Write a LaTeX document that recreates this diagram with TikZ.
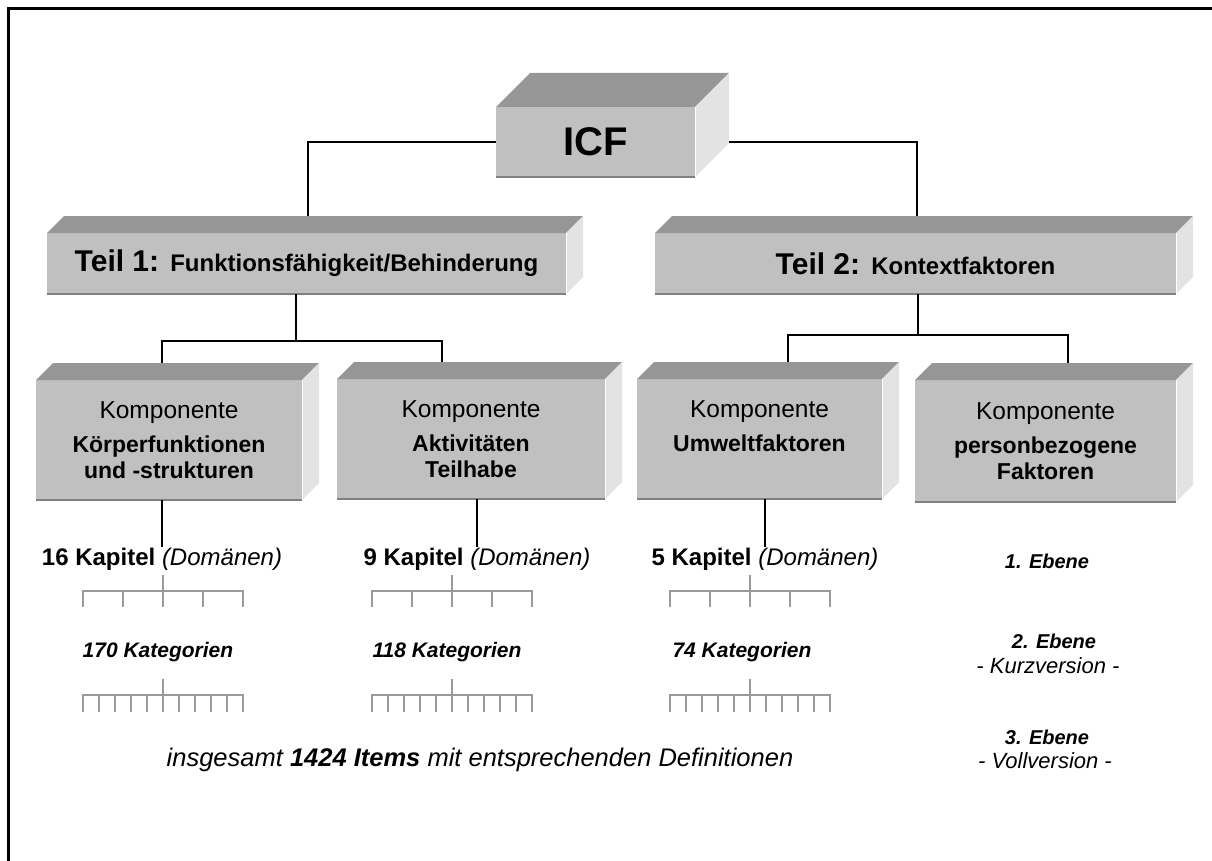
\documentclass[tikz,border=0pt]{standalone}
\usepackage{fontspec}
\setmainfont{Liberation Sans}
\usetikzlibrary{calc}
\usetikzlibrary{positioning}

\definecolor{frontgray}{HTML}{C0C0C0}
\definecolor{topgray}{HTML}{969696}
\definecolor{sidegray}{HTML}{E3E3E3}
\definecolor{treegray}{HTML}{9A9A9A}

\newcommand{\fs}[2]{\fontsize{#1}{#2}\selectfont}

% top and side face of a box; #1 node, #2 depth
\newcommand{\quader}[2]{%
  \fill[topgray] (#1.north west) -- ++(#2,-#2) -- ($(#1.north east)+(#2,-#2)$) -- (#1.north east) -- cycle;
  \fill[sidegray] (#1.north east) -- ++(#2,-#2) -- ($(#1.south east)+(#2,-#2)$) -- (#1.south east) -- cycle;
  \draw[white, line width=1pt] (#1.north east) -- (#1.south east);
  \draw[gray, line width=1.5pt] (#1.south west) -- (#1.south east);
}

\begin{document}
\begin{tikzpicture}[x=1pt, y=-1pt]

                \def\d{17}

                \tikzset{
                    front/.style={fill=frontgray, inner sep=0pt, outer sep=0pt, align=center},
                    komp/.style={front, minimum height=120, font=\fs{23}{26}\bfseries},
                    link/.style={line width=1.5pt},
                    tree/.style={treegray, line width=2pt},
                    label/.style={anchor=base, inner sep=0pt}
                }

                \useasboundingbox (0,0) rectangle (1212,861);
                \draw[line width=3pt] (1212,9) -- (8,9) -- (8,861);

                % the boxes
                \begin{scope}
                    \node[front, minimum width=199, minimum height=70] (icf) at (595.5,142)
                    {\fs{40}{44}\bfseries ICF};
                    \node[front, minimum width=519, minimum height=61] (teil1) at (306.5,263.5)
                    {\fs{30}{34}\bfseries Teil 1: {\fs{24}{28}Funktionsfähigkeit/Behinderung}};
                    \node[front, minimum width=521, minimum height=61] (teil2) at (915.5,263.5)
                    {\fs{30}{34}\bfseries Teil 2: {\fs{24}{28}Kontextfaktoren}};
                    \node[komp, minimum width=266] (k1) at (169,440)
                    {{\fs{24.5}{28}\mdseries Komponente}\\[8pt]Körperfunktionen\\und -strukturen};
                    \node[komp, minimum width=268] (k2) at (471,439)
                    {{\fs{24.5}{28}\mdseries Komponente}\\[8pt]Aktivitäten\\Teilhabe};
                    \node[komp, minimum width=245] (k3) at (759.5,439)
                    {{\fs{24.5}{28}\mdseries Komponente}\\[8pt]Umweltfaktoren\\\phantom{Faktoren}};
                    \node[komp, minimum width=261, minimum height=122] (k4) at (1045.5,441)
                    {{\fs{24.5}{28}\mdseries Komponente}\\[8pt]personbezogene\\Faktoren};
                \end{scope}

                \quader{icf}{34}
                \quader{teil1}{\d}
                \quader{teil2}{\d}
                \quader{k1}{\d}
                \quader{k2}{\d}
                \quader{k3}{\d}
                \quader{k4}{\d}

                % texts below the boxes
                \node[label] (kap1) at (162,565)
                {\fs{24}{28}\textbf{16 Kapitel} \textit{(Domänen)}};
                \node[label] (kap2) at (477,565)
                {\fs{24}{28}\textbf{9 Kapitel} \textit{(Domänen)}};
                \node[label] (kap3) at (765,565)
                {\fs{24}{28}\textbf{5 Kapitel} \textit{(Domänen)}};
                \node[label] (kat1) at (158,657)
                {\fs{21}{25}\bfseries\itshape 170 Kategorien};
                \node[label] (kat2) at (447,657)
                {\fs{21}{25}\bfseries\itshape 118 Kategorien};
                \node[label] (kat3) at (742,657)
                {\fs{21}{25}\bfseries\itshape 74 Kategorien};
                \node[label] (items) at (480,766)
                {\fs{25.5}{30}\itshape insgesamt \textbf{1424 Items} mit entsprechenden Definitionen};

                \node[label] (eb1) at (1047,568) {\fs{20}{24}\bfseries\itshape 1. Ebene};
                \node[label] (eb2) at (1054,648) {\fs{20}{24}\bfseries\itshape 2. Ebene};
                \node[label] (kurz) at (1048,673) {\fs{22}{26}\itshape - Kurzversion -};
                \node[label] (eb3) at (1047,744) {\fs{20}{24}\bfseries\itshape 3. Ebene};
                \node[label] (voll) at (1045,768) {\fs{22}{26}\itshape - Vollversion -};

                % connectors
                \begin{scope}[link]
                    \draw (icf.west) -| ($(teil1.north west)+(261,-\d)$);
                    \draw ($(icf.east)+(34,0)$) -| ($(teil2.north west)+(262,-\d)$);
                    \draw ($(teil1.south west)+(249,0)$) -- ++(0,47) coordinate (j1);
                    \draw ($(k1.north west)+(126,-\d)$) |- (j1) -| ($(k2.north west)+(105,-\d)$);
                    \draw ($(teil2.south west)+(263,0)$) -- ++(0,41) coordinate (j2);
                    \draw ($(k3.north west)+(151,-\d)$) |- (j2) -| ($(k4.north west)+(153,-\d)$);
                    \draw (kap1.north) -- (kap1.north |- k1.south);
                    \draw (kap2.north) -- (kap2.north |- k2.south);
                    \draw (kap3.north) -- (kap3.north |- k3.south);
                \end{scope}

                % chapter and category trees
                \foreach \cx in {163,452,750} {
                    \draw[tree] (\cx,575) -- (\cx,591);
                    \draw[tree] (\cx-80,607) -- (\cx-80,591) -- (\cx+80,591) -- (\cx+80,607);
                    \foreach \i in {1,2,3}
                        \draw[tree] (\cx-80+40*\i,591) -- ++(0,16);
                    \draw[tree] (\cx,679) -- (\cx,695);
                    \draw[tree] (\cx-80,712) -- (\cx-80,695) -- (\cx+80,695) -- (\cx+80,712);
                    \foreach \i in {1,...,9}
                        \draw[tree] (\cx-80+16*\i,695) -- ++(0,17);
                }

\end{tikzpicture}
\end{document}
